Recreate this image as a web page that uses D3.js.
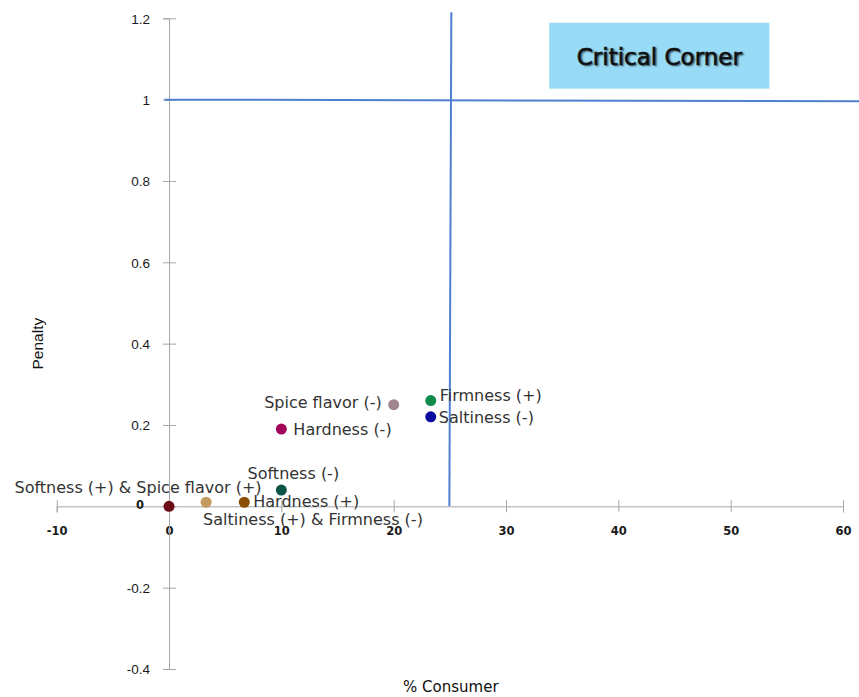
<!DOCTYPE html>
<html>
<head>
<meta charset="utf-8">
<script src="https://cdn.jsdelivr.net/npm/d3@7"></script>
<style>
  html, body { margin: 0; padding: 0; background: #fff; }
  svg { display: block; }
</style>
</head>
<body>
<svg id="chart" width="859" height="697"></svg>
<script>
// ---- Data ----
const attributes = [
  "Softness (+) & Spice flavor (+)",
  "Saltiness (+) & Firmness (-)",
  "Hardness (+)",
  "Softness (-)",
  "Hardness (-)",
  "Spice flavor (-)",
  "Firmness (+)",
  "Saltiness (-)"
];
const consumerPct = [0, 3.3, 6.7, 10, 10, 20, 23.3, 23.3];
const penalty = [0, 0.01, 0.01, 0.04, 0.19, 0.25, 0.26, 0.22];
const pointColors = ["#6d0c16", "#c49a5f", "#8a4f06", "#0b5546", "#a3055c", "#a0858d", "#0f8b4b", "#0b0aa0"];
const xTicks = [-10, 0, 10, 20, 30, 40, 50, 60];
const xTickLabels = ["-10", "0", "10", "20", "30", "40", "50", "60"];
const yTicks = [1.2, 1, 0.8, 0.6, 0.4, 0.2, 0, -0.2, -0.4];
const yTickLabels = ["1.2", "1", "0.8", "0.6", "0.4", "0.2", "0", "-0.2", "-0.4"];
const criticalX = 25;
const criticalY = 1;
const xTitle = "% Consumer";
const yTitle = "Penalty";
const cornerLabel = "Critical Corner";

// ---- Label placement (style only) ----
const labelPlace = {
  "Softness (+) & Spice flavor (+)": {anchor: "middle", dx: -31, dy: -19},
  "Saltiness (+) & Firmness (-)": {anchor: "start", dx: -3, dy: 17},
  "Hardness (+)": {anchor: "start", dx: 9, dy: -1},
  "Softness (-)": {anchor: "middle", dx: 12, dy: -17},
  "Hardness (-)": {anchor: "start", dx: 12, dy: 0},
  "Spice flavor (-)": {anchor: "end", dx: -12, dy: -2},
  "Firmness (+)": {anchor: "start", dx: 9, dy: -5},
  "Saltiness (-)": {anchor: "start", dx: 8, dy: 1}
};

const svg = d3.select("#chart");
const x = d3.scaleLinear().domain([-10, 60]).range([56.7, 843]);
const y = d3.scaleLinear().domain([-0.4, 1.2]).range([669, 18.3]);
const axisColor = "#a6a6a6";

// X axis
const xAxis = svg.append("g")
  .attr("transform", `translate(0,${y(0)})`)
  .call(d3.axisBottom(x).tickValues(xTicks).tickSizeOuter(0).tickSize(6)
    .tickFormat((d, i) => xTickLabels[i]));
xAxis.select(".domain").attr("stroke", axisColor);
xAxis.selectAll(".tick line").attr("stroke", axisColor).attr("y1", -6).attr("y2", 6);
xAxis.selectAll(".tick text")
  .attr("y", 25).attr("dy", "0.35em")
  .attr("font-family", "DejaVu Sans").attr("font-weight", "bold")
  .attr("font-size", 11.5).attr("fill", "#1a1a1a");

// Y axis
const yAxis = svg.append("g")
  .attr("transform", `translate(${x(0)},0)`)
  .call(d3.axisLeft(y).tickValues(yTicks).tickSizeOuter(0).tickSize(6)
    .tickFormat((d, i) => yTickLabels[i]));
yAxis.select(".domain").attr("stroke", axisColor);
yAxis.selectAll(".tick line").attr("stroke", axisColor).attr("x1", -6).attr("x2", 7);
yAxis.selectAll(".tick text")
  .attr("x", -19).attr("dy", "0.35em")
  .attr("font-family", "Liberation Sans, Arial")
  .attr("font-size", 13.5).attr("fill", "#1a1a1a");
yAxis.selectAll(".tick").filter(d => d === 0).select("text")
  .attr("font-family", "DejaVu Sans").attr("font-weight", "bold")
  .attr("font-size", 11.5).attr("x", -25).attr("dy", "0.2em");

// Critical reference lines
const blue = "#4f7fcf";
svg.append("line")
  .attr("x1", x(-0.4)).attr("x2", x(61.5))
  .attr("y1", y(criticalY)).attr("y2", y(criticalY) + 1.5)
  .attr("stroke", blue).attr("stroke-width", 2);
svg.append("line")
  .attr("x1", x(criticalX) + 1.5).attr("x2", x(criticalX) - 0.5)
  .attr("y1", y(1.215)).attr("y2", y(0))
  .attr("stroke", blue).attr("stroke-width", 2);

// Critical Corner box
const boxX0 = 33.85, boxX1 = 53.45, boxY0 = 1.189, boxY1 = 1.027;
svg.append("rect")
  .attr("x", x(boxX0)).attr("y", y(boxY0))
  .attr("width", x(boxX1) - x(boxX0)).attr("height", y(boxY1) - y(boxY0))
  .attr("fill", "#97dbf6");
svg.append("text")
  .attr("x", (x(boxX0) + x(boxX1)) / 2).attr("y", (y(boxY0) + y(boxY1)) / 2 + 1)
  .attr("text-anchor", "middle").attr("dominant-baseline", "central")
  .attr("font-family", "DejaVu Sans").attr("font-size", 23)
  .attr("fill", "#111").attr("stroke", "#111").attr("stroke-width", 0.6)
  .style("text-shadow", "1.5px 1.5px 1.5px rgba(0,0,0,0.45)")
  .text(cornerLabel);

// Points
const data = attributes.map((a, i) => ({name: a, xv: consumerPct[i], yv: penalty[i], color: pointColors[i]}));
svg.append("g").selectAll("circle").data(data).join("circle")
  .attr("cx", d => x(d.xv)).attr("cy", d => y(d.yv))
  .attr("r", 5.5).attr("fill", d => d.color);

// Labels
svg.append("g").selectAll("text").data(data).join("text")
  .attr("x", d => x(d.xv) + labelPlace[d.name].dx)
  .attr("y", d => y(d.yv) + labelPlace[d.name].dy)
  .attr("text-anchor", d => labelPlace[d.name].anchor)
  .attr("dominant-baseline", "central")
  .attr("font-family", "DejaVu Sans").attr("font-size", 16)
  .attr("fill", "#333")
  .text(d => d.name);

// Axis titles
svg.append("text")
  .attr("x", (x(-10) + x(60)) / 2 + 1).attr("y", 687)
  .attr("text-anchor", "middle").attr("dominant-baseline", "central")
  .attr("font-family", "DejaVu Sans").attr("font-size", 15)
  .attr("fill", "#111").text(xTitle);
svg.append("text")
  .attr("transform", `translate(37,${(y(-0.4) + y(1.2)) / 2}) rotate(-90)`)
  .attr("text-anchor", "middle").attr("dominant-baseline", "central")
  .attr("font-family", "Liberation Sans, Arial").attr("font-size", 15.5)
  .attr("fill", "#111").text(yTitle);
</script>
</body>
</html>
